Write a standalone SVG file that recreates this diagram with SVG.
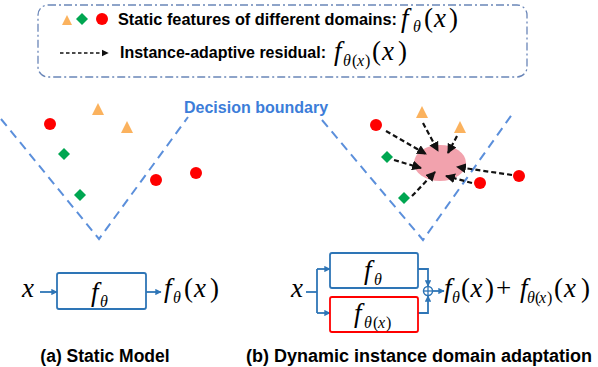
<svg xmlns="http://www.w3.org/2000/svg" width="598" height="367" viewBox="0 0 598 367">
<defs>
<style>
.lbl{font-family:"Liberation Sans",Arial,sans-serif;font-weight:bold;fill:#000}
.m{font-family:"Liberation Serif","Times New Roman",serif;fill:#000;font-size:27px}
.s{font-size:16px}
.i{font-style:italic}
.bnd{fill:none;stroke:#5B8FDB;stroke-width:2;stroke-dasharray:9 6}
.tri{fill:#FBB25E}
.dia{fill:#00A651}
.cir{fill:#FF0000}
.darr{fill:none;stroke:#111;stroke-width:2.2;stroke-dasharray:5 3;marker-end:url(#ah)}
.flow{fill:none;stroke:#2E75B6;stroke-width:1.8}
.farr{fill:none;stroke:#2E75B6;stroke-width:1.8;marker-end:url(#bh)}
</style>
<marker id="ah" viewBox="0 0 10 10" refX="9" refY="5" markerWidth="4.5" markerHeight="4.5" orient="auto" markerUnits="strokeWidth"><path d="M0,0 L10,5 L0,10 z" fill="#111"/></marker>
<marker id="bh" viewBox="0 0 10 10" refX="9" refY="5" markerWidth="3.5" markerHeight="3.5" orient="auto" markerUnits="strokeWidth"><path d="M0,0 L10,5 L0,10 z" fill="#2E75B6"/></marker>
</defs>
<rect width="598" height="367" fill="#fff"/>

<g id="legend">
<rect x="38" y="5" width="489" height="72" rx="10" ry="10" fill="none" stroke="#6A86B8" stroke-width="1.3" stroke-dasharray="8 3 2 3"/>
<polygon class="tri" points="67,15 62,25 72,25"/>
<polygon class="dia" points="82,13 88,19 82,25 76,19"/>
<circle class="cir" cx="102" cy="19" r="6"/>
<text class="lbl" x="118" y="25" font-size="16.5" textLength="279" lengthAdjust="spacingAndGlyphs">Static features of different domains:</text>
<text class="m"><tspan class="i" x="401" y="27">f</tspan><tspan class="i s" x="413" y="32">θ</tspan><tspan x="424" y="27">(</tspan><tspan class="i" x="434" y="27">x</tspan><tspan x="449" y="27">)</tspan></text>
<line x1="60" y1="53" x2="108" y2="53" stroke="#111" stroke-width="1.6" stroke-dasharray="3.5 2.5" marker-end="url(#ah)"/>
<text class="lbl" x="120" y="58" font-size="16.5" textLength="206" lengthAdjust="spacingAndGlyphs">Instance-adaptive residual:</text>
<text class="m"><tspan class="i" x="334" y="60">f</tspan><tspan class="i s" x="343" y="66">θ</tspan><tspan class="s" x="352" y="66">(</tspan><tspan class="i s" x="357" y="66">x</tspan><tspan class="s" x="365" y="66">)</tspan><tspan x="372" y="60">(</tspan><tspan class="i" x="382" y="60">x</tspan><tspan x="398" y="60">)</tspan></text>
</g>

<g id="boundary-label">
<text x="184" y="113" font-size="16" font-family="Liberation Sans,Arial,sans-serif" font-weight="bold" fill="#3C7DD9">Decision boundary</text>
</g>

<g id="static-space">
<polyline class="bnd" points="1,119 99,239 188,117"/>
<polygon class="tri" points="98,103 92,115 104,115"/>
<polygon class="tri" points="127,121 121,133 133,133"/>
<circle class="cir" cx="50" cy="124" r="6"/>
<polygon class="dia" points="64,148 70,154 64,160 58,154"/>
<polygon class="dia" points="80,189 86,195 80,201 74,195"/>
<circle class="cir" cx="156" cy="180" r="6"/>
<circle class="cir" cx="196" cy="173" r="6"/>
</g>

<g id="dynamic-space">
<polyline class="bnd" points="322,120 423,240 513,113"/>
<ellipse cx="440" cy="163" rx="26" ry="18" fill="#F2A2AD"/>
<circle class="cir" cx="376" cy="125" r="6"/>
<polygon class="tri" points="422,106 416,118 428,118"/>
<polygon class="tri" points="460,121 454,133 466,133"/>
<polygon class="dia" points="387,151 393,157 387,163 381,157"/>
<polygon class="dia" points="404,192 410,198 404,204 398,198"/>
<circle class="cir" cx="480" cy="183" r="6"/>
<circle class="cir" cx="519" cy="176" r="6"/>
</g>

<g id="connectors">
<line class="darr" x1="386" y1="131" x2="426" y2="154"/>
<line class="darr" x1="423" y1="123" x2="438" y2="151"/>
<line class="darr" x1="457" y1="136" x2="448" y2="153"/>
<line class="darr" x1="394" y1="160" x2="421" y2="168"/>
<line class="darr" x1="412" y1="196" x2="435" y2="172"/>
<line class="darr" x1="472" y1="183" x2="446" y2="176"/>
<line class="darr" x1="512" y1="175" x2="457" y2="167"/>
<line class="farr" x1="40" y1="292" x2="57" y2="292"/>
<line class="farr" x1="146" y1="292" x2="161" y2="292"/>
<polyline class="flow" points="306,292 317,292"/>
<polyline class="flow" points="317,313 317,269"/>
<line class="farr" x1="317" y1="269" x2="330" y2="269"/>
<line class="farr" x1="317" y1="313" x2="330" y2="313"/>
<polyline class="farr" points="418,269 428,269 428,286"/>
<polyline class="farr" points="418,313 428,313 428,296"/>
<line class="farr" x1="433" y1="291" x2="444" y2="291"/>
</g>

<g id="static-model">
<text class="m i" x="22" y="297">x</text>
<rect x="57" y="273" width="89" height="36" rx="2" fill="#fff" stroke="#2E75B6" stroke-width="1.8"/>
<text class="m"><tspan class="i" x="91" y="301">f</tspan><tspan class="i s" x="100" y="307">θ</tspan></text>
<text class="m"><tspan class="i" x="164" y="297">f</tspan><tspan class="i s" x="173" y="303">θ</tspan><tspan x="184" y="297">(</tspan><tspan class="i" x="194" y="297">x</tspan><tspan x="210" y="297">)</tspan></text>
</g>

<g id="dynamic-model">
<text class="m i" x="291" y="297">x</text>
<rect x="330" y="253" width="88" height="35" rx="2" fill="#fff" stroke="#2E75B6" stroke-width="1.8"/>
<text class="m"><tspan class="i" x="364" y="279">f</tspan><tspan class="i s" x="374" y="285">θ</tspan></text>
<rect x="330" y="297" width="88" height="35" rx="2" fill="#fff" stroke="#FF0000" stroke-width="1.8"/>
<text class="m"><tspan class="i" x="354" y="322">f</tspan><tspan class="i s" x="364" y="328">θ</tspan><tspan class="s" x="373" y="328">(</tspan><tspan class="i s" x="378" y="328">x</tspan><tspan class="s" x="386" y="328">)</tspan></text>
<circle cx="428" cy="291" r="4.5" fill="#fff" stroke="#2E75B6" stroke-width="1.5"/>
<line x1="423.5" y1="291" x2="432.5" y2="291" stroke="#2E75B6" stroke-width="1.3"/>
<line x1="428" y1="286.5" x2="428" y2="295.5" stroke="#2E75B6" stroke-width="1.3"/>
<text class="m"><tspan class="i" x="444" y="297">f</tspan><tspan class="i s" x="452" y="303">θ</tspan><tspan x="461" y="297">(</tspan><tspan class="i" x="470.5" y="297">x</tspan><tspan x="485" y="297">)</tspan><tspan x="496" y="297">+</tspan><tspan class="i" x="520" y="297">f</tspan><tspan class="i s" x="527" y="303">θ</tspan><tspan class="s" x="535" y="303">(</tspan><tspan class="i s" x="539" y="303">x</tspan><tspan class="s" x="547" y="303">)</tspan><tspan x="554" y="297">(</tspan><tspan class="i" x="564" y="297">x</tspan><tspan x="581" y="297">)</tspan></text>
</g>

<g id="captions">
<text class="lbl" x="105" y="362" font-size="17.5" text-anchor="middle">(a) Static Model</text>
<text class="lbl" x="419" y="362" font-size="18" text-anchor="middle">(b) Dynamic instance domain adaptation</text>
</g>
</svg>
